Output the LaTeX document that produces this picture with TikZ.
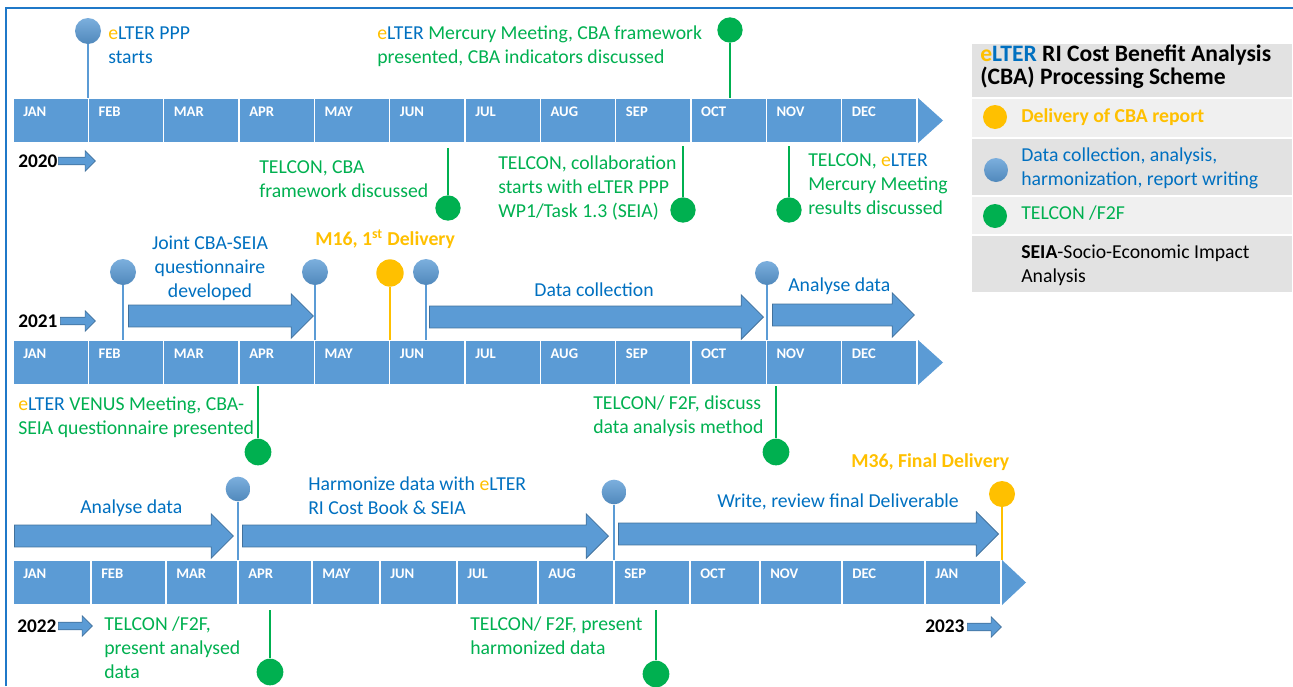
\documentclass[tikz,border=0pt]{standalone}
\usepackage{fontspec}
\setmainfont{Carlito}
\definecolor{barblue}{RGB}{91,155,213}
\definecolor{arrowline}{RGB}{65,113,156}
\definecolor{eblue}{RGB}{0,112,192}
\definecolor{egreen}{RGB}{0,176,80}
\definecolor{eorange}{RGB}{255,192,0}
\definecolor{framecol}{RGB}{31,120,200}
\definecolor{legdark}{RGB}{226,226,226}
\definecolor{leglight}{RGB}{240,240,240}
\usetikzlibrary{
	shapes.arrows,
	positioning
}
\newcommand{\elter}{\textcolor{eorange}{e}\textcolor{eblue}{LTER}}
\tikzset{
  % frame
	cstframe/.style   ={framecol, line width=1.5pt},
  % bar
	cstcell/.style    ={fill=barblue, draw=white, line width=0.9pt},
	cstmonth/.style   ={font=\fontsize{11}{12}\selectfont\bfseries, text=white, anchor=base west, inner sep=0pt},
	cstyear/.style    ={font=\fontsize{14.5}{18}\selectfont\bfseries, text=black, anchor=base west, inner sep=0pt},
  % arrow
	cstbig/.style     ={single arrow, fill=barblue, draw=arrowline, line width=0.6pt, inner xsep=0pt,
	                    inner ysep=7.9pt, single arrow head extend=8.5pt, anchor=west},
	cstsmall/.style   ={single arrow, fill=barblue, draw=arrowline, line width=0.5pt, inner xsep=0pt,
	                    inner ysep=2.6pt, single arrow head extend=4.8pt, anchor=west},
  % pin
	cstpinb/.style    ={circle, minimum size=19.5pt, inner sep=0pt, top color=barblue!80!white, bottom color=barblue!88!black},
	cstping/.style    ={circle, minimum size=19pt, inner sep=0pt, fill=egreen},
	cstpino/.style    ={circle, minimum size=20.5pt, inner sep=0pt, fill=eorange},
	cstlineb/.style   ={barblue, line width=1.1pt},
	cstlineg/.style   ={egreen, line width=1.1pt},
	cstlineo/.style   ={eorange, line width=1.1pt},
  % text (base = last line)
	csttext/.style    ={font=\fontsize{14.8}{18}\selectfont, align=left, anchor=base west, inner sep=0pt},
	cstblue/.style    ={csttext, text=eblue},
	cstgreen/.style   ={csttext, text=egreen},
	cstdeliv/.style   ={csttext, text=eorange, font=\fontsize{14.8}{18}\selectfont\bfseries},
	csttitle/.style   ={csttext, font=\fontsize{17.7}{15.5}\selectfont\bfseries},
  % legend
	cstrowd/.style    ={fill=legdark, draw=white, line width=0.8pt},
	cstrowl/.style    ={fill=leglight, draw=white, line width=0.8pt}
}

\begin{document}
\begin{tikzpicture}[x=0.75pt,y=-0.75pt]
	\useasboundingbox (0,0) rectangle (1293,686);
	\draw[cstframe] (6,686) -- (6,8) -- (1293,8);
	% bars 2020 and 2021
	\foreach \row/\top in {1/98,2/340}{
		\foreach \m [count=\i from 0] in {JAN,FEB,MAR,APR,MAY,JUN,JUL,AUG,SEP,OCT,NOV,DEC}{
			\pgfmathsetmacro\xa{13+75.33*\i}
			\draw[cstcell] (\xa,\top) rectangle ++(75.33,45);
			\node[cstmonth] (m\row-\i) at (\xa+10,\top+18.5) {\m};
		}
		\fill[barblue] (918,\top) -- (943,\top+22.5) -- (918,\top+45) -- cycle;
	}
	% bar 2022
	\foreach \xa/\xb/\m [count=\i] in {13/91/JAN,91/166/FEB,166/238/MAR,238/312/APR,312/380/MAY,380/457/JUN,
			457/538/JUL,538/614/AUG,614/690/SEP,690/760/OCT,760/842/NOV,842/925/DEC,925/1001/JAN}{
		\draw[cstcell] (\xa,560) rectangle (\xb,605);
		\node[cstmonth] (m3-\i) at (\xa+10,578.5) {\m};
	}
	\fill[barblue] (1002,560) -- (1026,582.5) -- (1002,605) -- cycle;

	% 2020
	\node[cstyear] (y20) at (18,167) {2020};
	\node[cstsmall, minimum height=27.75pt] (y20a) at (58,161) {};
	\node[cstpinb] (p1) at (88,31) {};
	\coordinate (p1b) at (88,98);
	\draw[cstlineb] (p1) -- (p1b);
	\node[cstblue] (t1) at (108,63) {\elter{} PPP\\starts};
	\node[cstping] (p2) at (730,30) {};
	\coordinate (p2b) at (730,98);
	\draw[cstlineg] (p2) -- (p2b);
	\node[cstgreen] (t2) at (377,63) {\elter{} Mercury Meeting, CBA framework\\presented, CBA indicators discussed};
	\coordinate (p3b) at (448,148);
	\node[cstping] (p3) at (448,208) {};
	\draw[cstlineg] (p3b) -- (p3);
	\node[cstgreen] (t3) at (259,197) {TELCON, CBA\\framework discussed};
	\coordinate (p4b) at (683,146);
	\node[cstping] (p4) at (683,210) {};
	\draw[cstlineg] (p4b) -- (p4);
	\node[cstgreen] (t4) at (498,217) {TELCON, collaboration\\starts with eLTER PPP\\WP1/Task 1.3 (SEIA)};
	\coordinate (p5b) at (789,146);
	\node[cstping] (p5) at (789,210) {};
	\draw[cstlineg] (p5b) -- (p5);
	\node[cstgreen] (t5) at (808,214) {TELCON, \elter\\Mercury Meeting\\results discussed};

	% 2021
	\node[cstyear] (y21) at (18,327) {2021};
	\node[cstsmall, minimum height=26.25pt] (y21a) at (60,321) {};
	\node[cstpinb] (q1) at (123,272) {};
	\coordinate (q1b) at (123,340);
	\draw[cstlineb] (q1) -- (q1b);
	\node[cstbig, minimum height=138.75pt] (a1) at (128,316) {};
	\node[cstblue, align=center, anchor=base] (s1) at (210,297) {Joint CBA-SEIA\\questionnaire\\developed};
	\node[cstpinb] (q2) at (315,272) {};
	\coordinate (q2b) at (315,340);
	\draw[cstlineb] (q2) -- (q2b);
	\node[cstpino] (q3) at (390,273) {};
	\coordinate (q3b) at (390,340);
	\draw[cstlineo] (q3) -- (q3b);
	\node[cstdeliv] (s3) at (315,245) {M16, 1\textsuperscript{st} Delivery};
	\node[cstpinb] (q4) at (426,272) {};
	\coordinate (q4b) at (426,340);
	\draw[cstlineb] (q4) -- (q4b);
	\node[cstbig, minimum height=250.5pt] (a2) at (429,317) {};
	\node[cstblue, anchor=base] (s4) at (594,296) {Data collection};
	\node[cstpinb, minimum size=18pt] (q5) at (767,273) {};
	\coordinate (q5b) at (767,340);
	\draw[cstlineb] (q5) -- (q5b);
	\node[cstbig, minimum height=106.5pt] (a3) at (772,315) {};
	\node[cstblue] (s5) at (788,291) {Analyse data};
	\coordinate (q6b) at (258,386);
	\node[cstping, minimum size=20pt] (q6) at (258,452) {};
	\draw[cstlineg] (q6b) -- (q6);
	\node[cstgreen] (s6) at (18,434) {\elter{} VENUS Meeting, CBA-\\SEIA questionnaire presented};
	\coordinate (q7b) at (776,386);
	\node[cstping, minimum size=20pt] (q7) at (776,452) {};
	\draw[cstlineg] (q7b) -- (q7);
	\node[cstgreen] (s7) at (593,433) {TELCON/ F2F, discuss\\data analysis method};

	% 2022
	\node[cstbig, minimum height=164.25pt] (b1) at (14,536) {};
	\node[cstblue] (u1) at (80,513) {Analyse data};
	\node[cstpinb, minimum size=18.5pt] (r1) at (238,489) {};
	\coordinate (r1b) at (238,560);
	\draw[cstlineb] (r1) -- (r1b);
	\node[cstbig, minimum height=274.5pt] (b2) at (242,536) {};
	\node[cstblue] (u2) at (308,514) {Harmonize data with \elter\\RI Cost Book \& SEIA};
	\node[cstpinb, minimum size=18.5pt] (r2) at (614,492) {};
	\coordinate (r2b) at (614,560);
	\draw[cstlineb] (r2) -- (r2b);
	\node[cstbig, minimum height=285pt] (b3) at (618,534) {};
	\node[cstblue] (u3) at (717,507) {Write, review final Deliverable};
	\node[cstpino, minimum size=19.5pt] (r3) at (1002,494) {};
	\coordinate (r3b) at (1002,560);
	\draw[cstlineo] (r3) -- (r3b);
	\node[cstdeliv] (u4) at (851,467) {M36, Final Delivery};
	\node[cstyear] (y22) at (17,632) {2022};
	\node[cstsmall, minimum height=25.5pt] (y22a) at (58,626) {};
	\coordinate (r4b) at (270,610);
	\node[cstping, minimum size=20pt] (r4) at (270,672) {};
	\draw[cstlineg] (r4b) -- (r4);
	\node[cstgreen] (u5) at (104,678) {TELCON /F2F,\\present analysed\\data};
	\coordinate (r5b) at (656,610);
	\node[cstping, minimum size=20pt] (r5) at (656,674) {};
	\draw[cstlineg] (r5b) -- (r5);
	\node[cstgreen] (u6) at (470,654) {TELCON/ F2F, present\\harmonized data};
	\node[cstyear] (y23) at (925,632) {2023};
	\node[cstsmall, minimum height=25.5pt] (y23a) at (967,627) {};

	% legend
	\draw[cstrowd] (971,43) rectangle (1293,98);
	\draw[cstrowl] (971,98) rectangle (1293,138);
	\draw[cstrowd] (971,138) rectangle (1293,196);
	\draw[cstrowl] (971,196) rectangle (1293,235);
	\draw[cstrowd] (971,235) rectangle (1293,293);
	\node[csttitle] (lg0) at (980,84) {\elter{} RI Cost Benefit Analysis\\(CBA) Processing Scheme};
	\node[cstpino, minimum size=18pt] (d1) at (995,117) {};
	\node[cstdeliv] (lg1) at (1021,122) {Delivery of CBA report};
	\node[cstpinb, minimum size=18pt] (d2) at (996,170) {};
	\node[cstblue] (lg2) at (1021,185) {Data collection, analysis,\\harmonization, report writing};
	\node[cstping, minimum size=18pt] (d3) at (995,216) {};
	\node[cstgreen] (lg3) at (1021,219) {TELCON /F2F};
	\node[csttext] (lg4) at (1021,282) {\textbf{SEIA}-Socio-Economic Impact\\Analysis};
\end{tikzpicture}
\end{document}
